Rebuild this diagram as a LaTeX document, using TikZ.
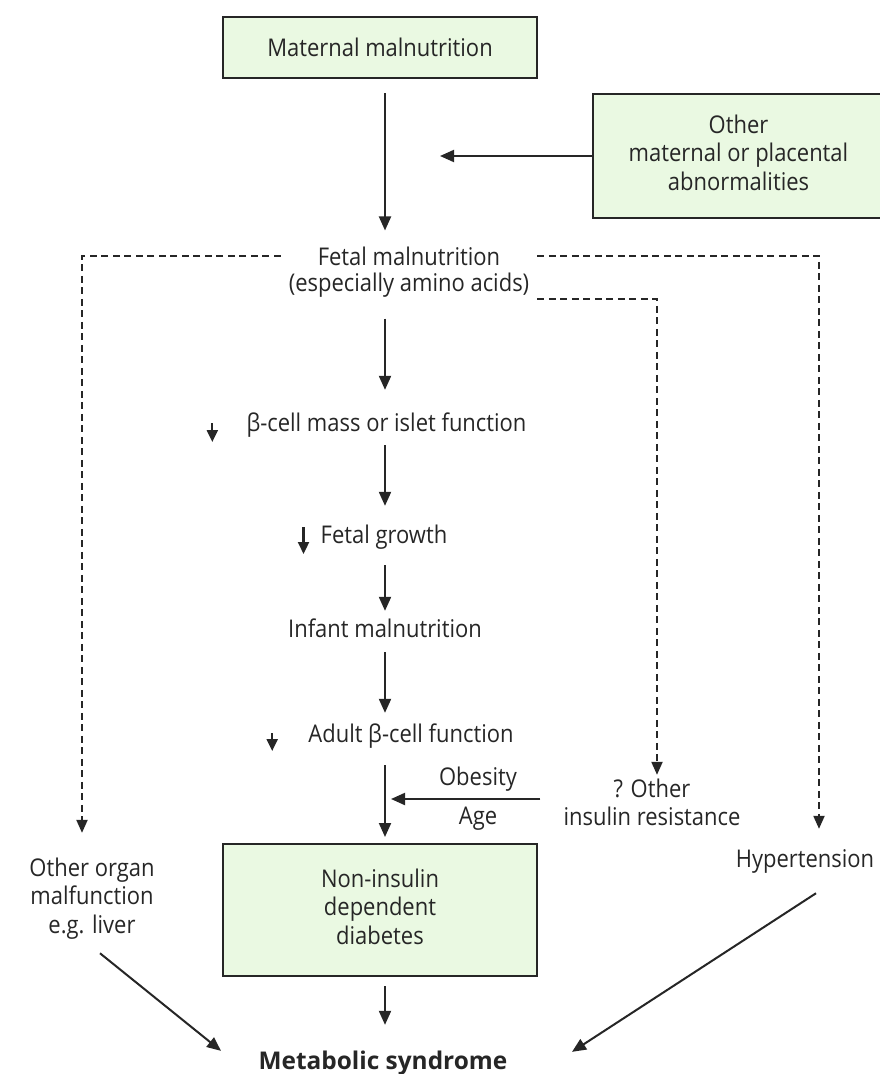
\documentclass[tikz,border=0pt]{standalone}
\usepackage{fontspec}
\setmainfont[FakeStretch=0.9]{Open Sans}
\newfontfamily\widefont{Open Sans}
\usetikzlibrary{arrows.meta}
\definecolor{boxfill}{HTML}{EAF9E2}
\definecolor{ink}{HTML}{262626}
\newcommand\mlines[1]{\begin{tabular}[t]{@{}c@{}}#1\end{tabular}}
\begin{document}
\begin{tikzpicture}[x=1pt,y=-1pt,
  txt/.style={font=\fontsize{24.4}{28.5}\selectfont, text=ink, inner sep=0pt},
  greenbox/.style={draw=ink, line width=2pt, fill=boxfill, inner sep=0pt, font=\fontsize{24.4}{28.5}\selectfont, text=ink},
  arr/.style={draw=ink, line width=2pt, -{Triangle[length=14pt,width=12pt]}},
  sarr/.style={draw=ink, line width=2.2pt, -{Triangle[length=12pt,width=11pt]}},
  dsh/.style={draw=ink, line width=2pt, dash pattern=on 7pt off 4.5pt, -{Triangle[length=13pt,width=11pt]}},
]
\useasboundingbox (0,0) rectangle (879,1074);
\coordinate (col) at (385,0);
\coordinate (hy) at (0,799);
\coordinate (cL) at (82,256);
\coordinate (cR) at (819,256);
\coordinate (cM) at (657,299);

\node[greenbox, minimum width=314pt, minimum height=61pt] (m1) at (380,47.5) {Maternal malnutrition};
\node[greenbox, minimum width=291pt, minimum height=124pt] (oth) at (738.5,156) {\mlines{Other\\maternal or placental\\abnormalities}};
\node[txt, anchor=base, inner xsep=8pt, font=\fontsize{24.4}{26}\selectfont] (fetal) at (409,265) {\mlines{Fetal malnutrition\\(especially amino acids)}};
\node[txt, anchor=base] (beta) at (386.5,431) {\mlines{β-cell mass or islet function}};
\node[txt, anchor=base] (growth) at (384,543) {\mlines{Fetal growth}};
\node[txt, anchor=base] (infant) at (385,637) {\mlines{Infant malnutrition}};
\node[txt, anchor=base] (adult) at (411,742) {\mlines{Adult β-cell function}};
\node[txt, anchor=base] (obes) at (478,785) {\mlines{Obesity}};
\node[txt, anchor=base] (age) at (478,824) {\mlines{Age}};
\node[txt, anchor=base] (ins) at (652,797) {\mlines{? Other\\insulin resistance}};
\node[txt, anchor=base] (organ) at (92,876) {\mlines{Other organ\\malfunction\\e.g. liver}};
\node[txt, anchor=base] (hyp) at (805,867) {\mlines{Hypertension}};
\node[greenbox, minimum width=314pt, minimum height=132pt] (niddm) at (380,910) {\mlines{Non-insulin\\dependent\\diabetes}};
\node[txt, anchor=base, font=\widefont\fontsize{24.4}{28.5}\selectfont\bfseries] (metab) at (383,1069) {\mlines{Metabolic syndrome}};

% main chain
\draw[arr, shorten <=14pt, shorten >=15.8pt] (m1.south -| col) -- (fetal.north -| col);
\draw[arr, shorten >=55pt] (oth.west) -- (oth.west -| col);
\draw[arr, shorten <=19.2pt, shorten >=21pt] (fetal.south -| col) -- (beta.north -| col);
\draw[arr, shorten <=5.5pt, shorten >=17pt] (beta.south -| col) -- (growth.north -| col);
\draw[arr, shorten <=13.5pt, shorten >=6pt] (growth.south -| col) -- (infant.north -| col);
\draw[arr, shorten <=6.5pt, shorten >=9pt] (infant.south -| col) -- (adult.north -| col);
\draw[arr, shorten <=14.5pt, shorten >=6pt] (adult.south -| col) -- (niddm.north -| col);
\draw[arr, shorten <=9pt, shorten >=24pt] (niddm.south -| col) -- (metab.north -| col);
\draw[arr, shorten <=23pt, shorten >=6pt] (ins.west |- hy) -- (col |- hy);

% dashed branches
\draw[dsh, shorten >=23pt] (fetal.west |- cL) -- (cL) -- (cL |- organ.north);
\draw[dsh, shorten >=18pt] (fetal.east |- cR) -- (cR) -- (cR |- hyp.north);
\draw[dsh, shorten >=2pt] (fetal.east |- cM) -- (cM) -- (cM |- ins.north);

% diagonals to metabolic syndrome
\draw[arr] ([shift={(8,11.5)}]organ.south) -- ([shift={(-162,2)}]metab.north);
\draw[arr] ([shift={(11,17.5)}]hyp.south) -- ([shift={(189,3)}]metab.north);

% small decrease arrows
\draw[sarr] ([shift={(-34,-8)}]beta.base west) -- ++(0,19);
\draw[sarr] ([shift={(-17,-16)}]growth.base west) -- ++(0,27);
\draw[sarr] ([shift={(-36,-9)}]adult.base west) -- ++(0,18);
\end{tikzpicture}
\end{document}
